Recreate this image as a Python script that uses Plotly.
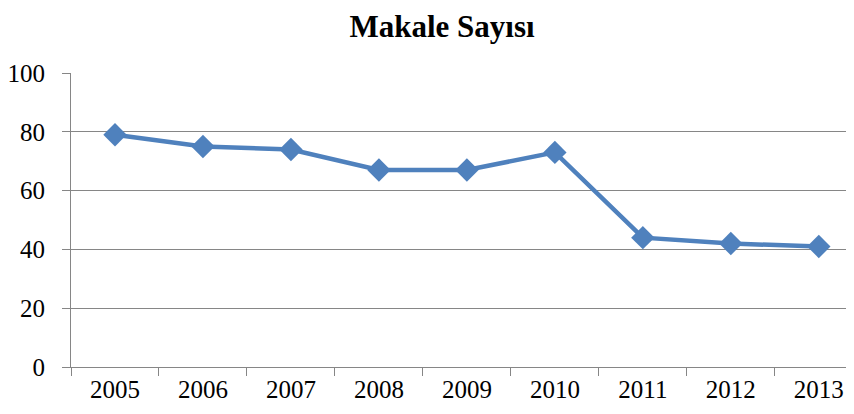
import plotly.graph_objects as go

years = ["2005", "2006", "2007", "2008", "2009", "2010", "2011", "2012", "2013"]
values = [79, 75, 74, 67, 67, 73, 44, 42, 41]
y_ticks = [0, 20, 40, 60, 80, 100]

SERIF = "Liberation Serif"

fig = go.Figure(go.Scatter(
    x=years, y=values, mode="lines+markers",
    line=dict(color="#4F81BD", width=4.5),
    marker=dict(symbol="diamond", size=18, color="#4F81BD"),
    cliponaxis=False,
))

# page body has an 8px margin; figure is 846x406 placed at (8, 8)
fig.update_layout(
    width=846, height=406,
    margin=dict(l=63, r=0, t=65, b=47, autoexpand=False),
    paper_bgcolor="white", plot_bgcolor="white",
    showlegend=False,
    font=dict(family=SERIF, size=25, color="black"),
    title=dict(text="<b>Makale Sayısı</b>", x=434/846, xanchor="center",
               xref="container",
               y=1 - 18/406, yanchor="middle",
               font=dict(family=SERIF, size=31, color="black")),
)
fig.update_xaxes(
    type="category", range=[-0.5, 8.4], automargin=False,
    tickson="boundaries", ticks="outside", ticklen=8, tickcolor="#868686",
    showline=True, linecolor="#868686", linewidth=1,
    showgrid=False, tickfont=dict(family=SERIF, size=25),
)
fig.update_yaxes(
    range=[0, 100], tickvals=y_ticks, automargin=False,
    ticks="outside", ticklen=8, tickcolor="#868686",
    showline=True, linecolor="#868686", linewidth=1,
    showgrid=True, gridcolor="#868686", gridwidth=1,
    zeroline=False, tickfont=dict(family=SERIF, size=25), ticklabelstandoff=12,
)

fig.write_html("out.html")
